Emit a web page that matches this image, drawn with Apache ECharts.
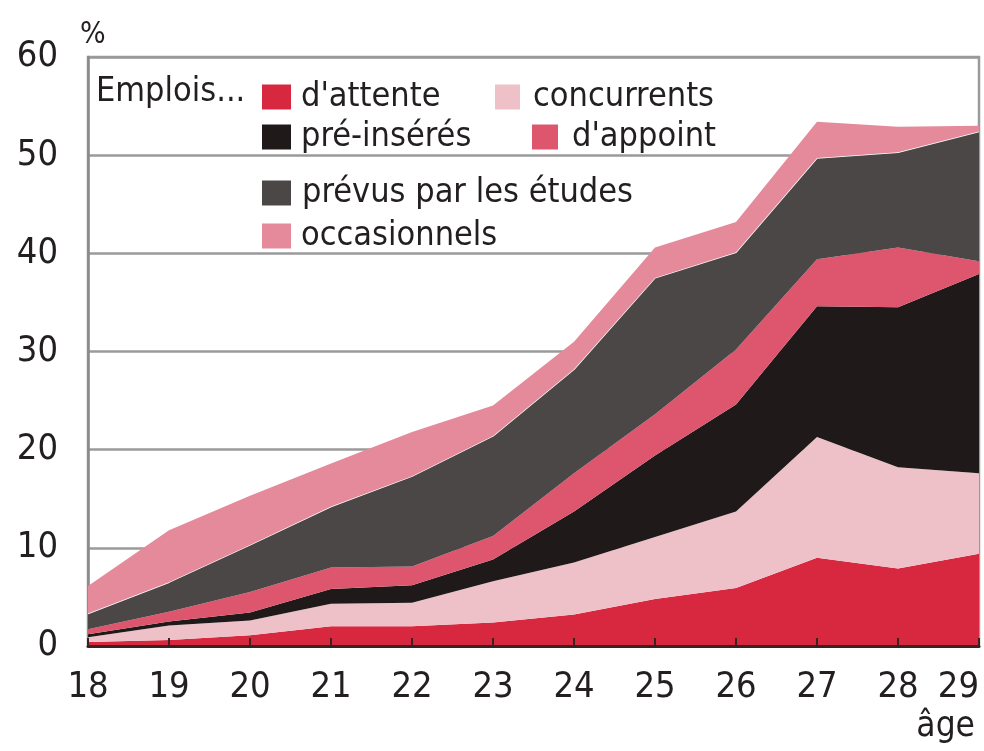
<!DOCTYPE html>
<html>
<head>
<meta charset="utf-8">
<script src="https://cdn.jsdelivr.net/npm/echarts@6/dist/echarts.min.js"></script>
<style>
html,body{margin:0;padding:0;background:#fff;}
#chart{width:984px;height:751px;}
</style>
</head>
<body>
<div id="chart"></div>
<script>
var ages = ['18','19','20','21','22','23','24','25','26','27','28','29'];
var attente      = [0.4, 0.6, 1.1, 2.0, 2.0, 2.4, 3.2, 4.8, 5.9, 9.0, 7.9, 9.4];
var concurrents  = [0.5, 1.5, 1.5, 2.3, 2.4, 4.2, 5.3, 6.3, 7.8, 12.3, 10.3, 8.2];
var preInseres   = [0.3, 0.4, 0.8, 1.5, 1.8, 2.2, 5.2, 8.3, 10.9, 13.3, 16.3, 20.3];
var appoint      = [0.5, 1.0, 2.1, 2.2, 1.9, 2.4, 3.9, 4.2, 5.6, 4.8, 6.1, 1.3];
var prevus       = [1.6, 3.0, 4.8, 6.2, 9.2, 10.2, 10.6, 13.9, 9.9, 10.3, 9.7, 13.2];
var occasionnels = [2.8, 5.3, 5.0, 4.4, 4.5, 3.1, 2.8, 3.1, 3.1, 3.7, 2.6, 0.6];
var yTicks = [0, 10, 20, 30, 40, 50, 60];

var FONT = "'Liberation Sans Narrow', 'DejaVu Sans Condensed', 'Arial Narrow', 'Liberation Sans', sans-serif";
var TXT = '#231f20';

var names = ["d'attente", 'concurrents', 'pré-insérés', "d'appoint", 'prévus par les études', 'occasionnels'];
var colors = ['#d8283f', '#eec1c9', '#1f1a19', '#de566e', '#4b4747', '#e58a9b'];
var values = [attente, concurrents, preInseres, appoint, prevus, occasionnels];

var series = names.map(function (n, i) {
  return {
    name: n,
    type: 'line',
    stack: 'total',
    data: values[i],
    showSymbol: false,
    symbol: 'none',
    smooth: false,
    lineStyle: i === 4 ? { color: '#ffffff', width: 1.5 } : { width: 0 },
    itemStyle: { color: colors[i] },
    areaStyle: { color: colors[i], opacity: 1 },
    z: 2 + i
  };
});

function leg(name, left, top, iw, gapPad) {
  return {
    data: [name],
    left: left, top: top,
    icon: 'rect',
    itemWidth: iw, itemHeight: 25,
    itemGap: 0,
    padding: 0,
    selectedMode: false,
    textStyle: { fontFamily: FONT, fontSize: 34, lineHeight: 25, color: TXT, padding: [0, 0, 0, gapPad] }
  };
}

var chart = echarts.init(document.getElementById('chart'), null, { renderer: 'canvas' });
chart.setOption({
  animation: false,
  backgroundColor: '#ffffff',
  grid: {
    left: 88, right: 5, top: 57, bottom: 105,
    show: true, borderColor: '#9a9a9a', borderWidth: 2.5, backgroundColor: 'transparent'
  },
  legend: [
    leg(names[0], 262, 80, 29, 5),
    leg(names[1], 495, 80, 25, 8),
    leg(names[2], 262, 120, 29, 5),
    leg(names[3], 532, 120, 26, 9),
    leg(names[4], 262, 176, 29, 6),
    leg(names[5], 262, 219, 29, 5)
  ],
  graphic: [
    { type: 'text', left: 96, top: 75, style: { text: 'Emplois...', font: '34px ' + FONT, fill: TXT } },
    { type: 'text', right: 9, top: 709, style: { text: 'âge', font: '35px ' + FONT, fill: TXT } }
  ],
  xAxis: {
    type: 'category',
    data: ages,
    boundaryGap: false,
    axisLine: { show: true, lineStyle: { color: '#3a2222', width: 3 } },
    axisTick: { show: true, inside: true, length: 8, alignWithLabel: true, lineStyle: { color: '#3a2222', width: 2 } },
    axisLabel: { fontFamily: FONT, fontSize: 36, color: TXT, margin: 24, alignMaxLabel: 'right' },
    splitLine: { show: false },
    z: 20
  },
  yAxis: {
    type: 'value',
    min: yTicks[0], max: yTicks[yTicks.length - 1], interval: 10,
    name: '%',
    nameLocation: 'end',
    nameGap: 7,
    nameTextStyle: { fontFamily: FONT, fontSize: 30, color: TXT, align: 'left', padding: [0, 0, 0, -8] },
    axisLine: { show: true, lineStyle: { color: '#8a8a8a', width: 2.5 } },
    axisTick: { show: false },
    axisLabel: { fontFamily: FONT, fontSize: 36, color: TXT, margin: 30 },
    splitLine: { show: true, lineStyle: { color: '#9a9a9a', width: 2.5 } }
  },
  series: series
});
</script>
</body>
</html>
